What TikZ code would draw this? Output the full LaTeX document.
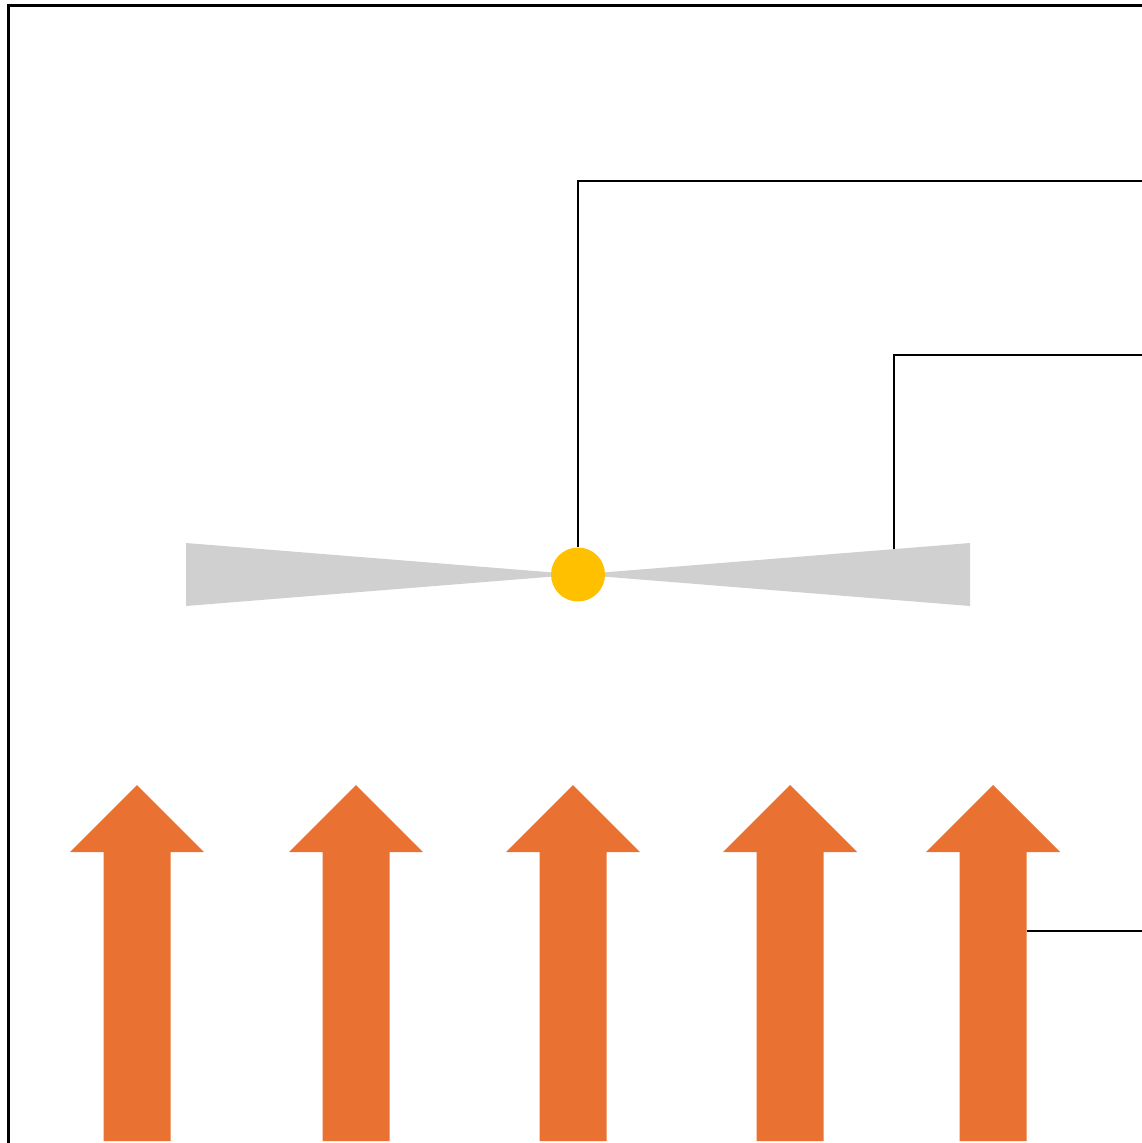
\documentclass[tikz,border=0pt]{standalone}
\usetikzlibrary{calc}
\definecolor{arroworange}{HTML}{E97132}
\definecolor{pivotyellow}{HTML}{FFC000}
\definecolor{wedgegray}{HTML}{D0D0D0}
\tikzset{
  wire/.style={draw=black,line width=2pt},
  frameline/.style={draw=black,line width=3.5pt},
  wedge/.style={fill=wedgegray,draw=none},
  flowarrow/.style={fill=arroworange,draw=none},
}
\newcommand{\flowarrowat}[2]{%
  \fill[flowarrow] ({#1-33.5},1141) -- ({#1-33.5},852) -- ({#1-67},852) -- (#1,785) -- ({#1+67},852) -- ({#1+33.5},852) -- ({#1+33.5},1141) -- cycle;
  \coordinate (#2) at ({#1+33.5},931);
}
\begin{document}
\begin{tikzpicture}[x=1pt,y=-1pt]
\useasboundingbox (0,0) rectangle (1142,1143);
\fill[white] (0,0) rectangle (1142,1143);
% frame
\draw[frameline] (8.5,1145) -- (8.5,5.5) -- (1145,5.5);
% wedges
\fill[wedge] (186,543) -- (186,606) -- (578,574.5) -- cycle;
\fill[wedge] (970,543) -- (970,606) -- (578,574.5) -- cycle;
% pivot
\node[circle,fill=pivotyellow,minimum size=54pt,inner sep=0pt] (pivot) at (578,574.5) {};
% arrows
\flowarrowat{137}{a1}
\flowarrowat{356}{a2}
\flowarrowat{573}{a3}
\flowarrowat{790}{a4}
\flowarrowat{993}{a5}
% wires
\coordinate (w1) at (1143,181);
\coordinate (w2top) at (894,355);
\coordinate (w2end) at (1143,355);
\coordinate (w2bot) at (894,548.5);
\coordinate (w3) at (1143,931);
\draw[wire] (pivot.north) |- (w1);
\draw[wire] (w2bot) -- (w2top) -- (w2end);
\draw[wire] (a5) -- (w3);
\end{tikzpicture}
\end{document}
